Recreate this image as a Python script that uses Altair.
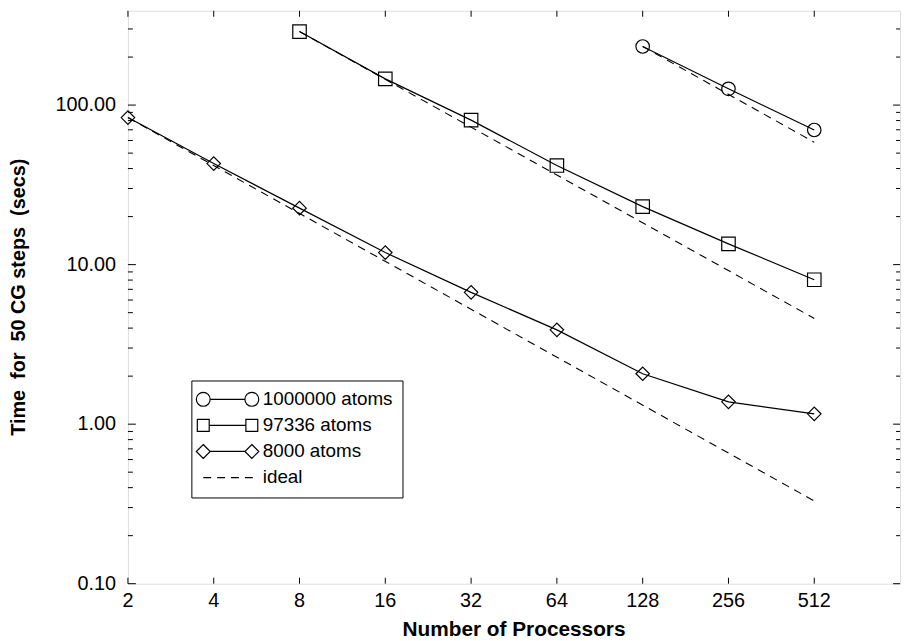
import altair as alt
import pandas as pd

# ---------------- data ----------------
series_names = ["1000000 atoms", "97336 atoms", "8000 atoms"]

procs_1m = [128, 256, 512]
time_1m = [233.0, 126.5, 69.8]

procs_97k = [8, 16, 32, 64, 128, 256, 512]
time_97k = [289.0, 146.0, 80.5, 41.8, 23.1, 13.5, 8.04]

procs_8k = [2, 4, 8, 16, 32, 64, 128, 256, 512]
time_8k = [83.5, 43.0, 22.6, 11.9, 6.7, 3.9, 2.07, 1.38, 1.16]

ideal_start_procs = [128, 8, 2]
ideal_start_time = [233.0, 289.0, 83.5]
ideal_end_procs = [512, 512, 512]
ideal_end_time = [58.5, 4.6, 0.33]

x_ticks = [2, 4, 8, 16, 32, 64, 128, 256, 512]
y_ticks = [0.1, 1, 10, 100]
y_minor_ticks = [0.2, 0.3, 0.4, 0.5, 0.6, 0.7, 0.8, 0.9,
                 2, 3, 4, 5, 6, 7, 8, 9,
                 20, 30, 40, 50, 60, 70, 80, 90,
                 200, 300]
legend_labels = series_names + ["ideal"]

x_domain = [2, 1024]
y_domain = [0.1, 390]

NB = "\u00a0"
x_title = "Number of Processors"
y_title = f"Time {NB}for {NB}50 CG steps {NB}(secs)"

# ---------------- tables ----------------
rows = []
for name, ps, ts in zip(series_names, [procs_1m, procs_97k, procs_8k],
                        [time_1m, time_97k, time_8k]):
    for p, t in zip(ps, ts):
        rows.append({"series": name, "procs": p, "time": t})
df = pd.DataFrame(rows)

irows = []
for name, p0, t0, p1, t1 in zip(series_names, ideal_start_procs, ideal_start_time,
                                ideal_end_procs, ideal_end_time):
    irows.append({"series": name, "procs": p0, "time": t0})
    irows.append({"series": name, "procs": p1, "time": t1})
df_ideal = pd.DataFrame(irows)

df_xt = pd.DataFrame({"v": x_ticks})
df_yt = pd.DataFrame({"v": y_ticks})
df_ym = pd.DataFrame({"v": y_minor_ticks})
df_xtitle = pd.DataFrame({"t": [x_title]})
df_ytitle = pd.DataFrame({"t": [y_title]})

# ---------------- styling helpers ----------------
FONT = "Liberation Sans"
x_scale = alt.Scale(type="log", base=2, domain=x_domain, nice=False)
y_scale = alt.Scale(type="log", domain=y_domain, nice=False)
x_mid = (x_domain[0] * x_domain[1]) ** 0.5   # geometric centre of the log axis
y_mid = (y_domain[0] * y_domain[1]) ** 0.5

# legend symbols: unit = 8 px (symbolSize 256)
U = 8.0


def f(v):
    return f"{v / U:.3f}"


def circle_path(cx, r):
    k = 0.5523 * r
    return (f"M{f(cx + r)},0 C{f(cx + r)},{f(k)} {f(cx + k)},{f(r)} {f(cx)},{f(r)} "
            f"C{f(cx - k)},{f(r)} {f(cx - r)},{f(k)} {f(cx - r)},0 "
            f"C{f(cx - r)},{f(-k)} {f(cx - k)},{f(-r)} {f(cx)},{f(-r)} "
            f"C{f(cx + k)},{f(-r)} {f(cx + r)},{f(-k)} {f(cx + r)},0 Z")


def square_path(cx, r):
    return (f"M{f(cx - r)},{f(-r)} L{f(cx + r)},{f(-r)} L{f(cx + r)},{f(r)} "
            f"L{f(cx - r)},{f(r)} Z")


def diamond_path(cx, r):
    return (f"M{f(cx)},{f(-r)} L{f(cx + r)},0 L{f(cx)},{f(r)} L{f(cx - r)},0 Z")


L, R = -7.0, 42.0
p_circle = (circle_path(L, 7) + f" M{f(L + 7)},0 L{f(R - 7)},0 " + circle_path(R, 7))
p_square = (square_path(L, 6) + f" M{f(L + 6)},0 L{f(R - 6)},0 " + square_path(R, 6))
p_diamond = (diamond_path(L, 7) + f" M{f(L + 7)},0 L{f(R - 7)},0 " + diamond_path(R, 7))
p_dash = " ".join(f"M{f(a)},0 L{f(a + 8)},0" for a in [L, L + 14, L + 28, L + 42])
legend_paths = [p_circle, p_square, p_diamond, p_dash]

# ---------------- data layers ----------------
lines = alt.Chart(df).mark_line(color="black", strokeWidth=1.2).encode(
    x=alt.X("procs:Q", scale=x_scale, axis=None),
    y=alt.Y("time:Q", scale=y_scale, axis=None),
    detail="series:N",
    order="procs:Q",
)

ideal = alt.Chart(df_ideal).mark_line(color="black", strokeWidth=1.1,
                                      strokeDash=[8, 6]).encode(
    x=alt.X("procs:Q", scale=x_scale, axis=None),
    y=alt.Y("time:Q", scale=y_scale, axis=None),
    detail="series:N",
)

points = alt.Chart(df).mark_point(color="black", filled=False, size=185,
                                  strokeWidth=1.2, opacity=1).encode(
    x=alt.X("procs:Q", scale=x_scale, axis=None),
    y=alt.Y("time:Q", scale=y_scale, axis=None),
    shape=alt.Shape("series:N",
                    scale=alt.Scale(domain=series_names,
                                    range=["circle", "square", "diamond"]),
                    legend=None),
)

legend_layer = alt.Chart(df).transform_filter("false").mark_point(
    color="black", filled=False, strokeWidth=1.2, opacity=1).encode(
    shape=alt.Shape("series:N",
                    scale=alt.Scale(domain=legend_labels, range=legend_paths),
                    legend=alt.Legend(orient="none", legendX=64, legendY=373,
                                      direction="vertical", title=None,
                                      padding=9.5, rowPadding=6.3,
                                      symbolSize=256, symbolStrokeWidth=1.2,
                                      symbolStrokeColor="black",
                                      symbolFillColor="transparent",
                                      symbolOpacity=1,
                                      labelOffset=43.5, labelFont=FONT,
                                      labelFontSize=19, labelColor="black",
                                      labelLimit=400,
                                      strokeColor="black", fillColor="white")),
)


# ---------------- frame ticks (inward, all four sides) ----------------
# short line-shaped point symbols; path length (2 units) = sqrt(size) px
def xticks(y_edge, length, path):
    return alt.Chart(df_xt).mark_point(shape=path, size=length * length,
                                       filled=False, color="black",
                                       strokeWidth=1, opacity=1).encode(
        x=alt.X("v:Q", scale=x_scale, axis=None),
        y=alt.Y(datum=y_edge, scale=y_scale, axis=None),
    )


def yticks(data, x_edge, length, path):
    return alt.Chart(data).mark_point(shape=path, size=length * length,
                                      filled=False, color="black",
                                      strokeWidth=1, opacity=1).encode(
        y=alt.Y("v:Q", scale=y_scale, axis=None),
        x=alt.X(datum=x_edge, scale=x_scale, axis=None),
    )


UP, DOWN, RIGHT, LEFT = "M0,0L0,-2", "M0,0L0,2", "M0,0L2,0", "M0,0L-2,0"
tick_layers = [
    xticks(y_domain[0], 6, UP),
    xticks(y_domain[1], 6, DOWN),
    yticks(df_yt, x_domain[0], 8, RIGHT),
    yticks(df_ym, x_domain[0], 5, RIGHT),
    yticks(df_yt, x_domain[1], 7, LEFT),
    yticks(df_ym, x_domain[1], 4, LEFT),
]

# ---------------- tick labels and axis titles ----------------
x_labels = alt.Chart(df_xt).mark_text(font=FONT, fontSize=20, color="black",
                                      baseline="top", align="center", dy=8).encode(
    x=alt.X("v:Q", scale=x_scale, axis=None),
    y=alt.Y(datum=y_domain[0], scale=y_scale, axis=None),
    text=alt.Text("v:Q", format="d"),
)

y_labels = alt.Chart(df_yt).mark_text(font=FONT, fontSize=20, color="black",
                                      baseline="middle", align="right", dx=-12).encode(
    y=alt.Y("v:Q", scale=y_scale, axis=None),
    x=alt.X(datum=x_domain[0], scale=x_scale, axis=None),
    text=alt.Text("v:Q", format=".2f"),
)

x_title_layer = alt.Chart(df_xtitle).mark_text(
    font=FONT, fontSize=21, fontWeight="bold", color="black",
    baseline="alphabetic", align="center", dy=53).encode(
    x=alt.X(datum=x_mid, scale=x_scale, axis=None),
    y=alt.Y(datum=y_domain[0], scale=y_scale, axis=None),
    text="t:N",
)

y_title_layer = alt.Chart(df_ytitle).mark_text(
    font=FONT, fontSize=20, fontWeight="bold", color="black", angle=270,
    baseline="alphabetic", align="center", dy=-104).encode(
    x=alt.X(datum=x_domain[0], scale=x_scale, axis=None),
    y=alt.Y(datum=y_mid, scale=y_scale, axis=None),
    text="t:N",
)

chart = alt.layer(lines, ideal, points, legend_layer, *tick_layers,
                  x_labels, y_labels, x_title_layer, y_title_layer).resolve_scale(
    shape="independent"
).properties(
    width=779, height=578,
    padding={"left": 121, "top": 0, "right": 6, "bottom": 55},
    autosize=alt.AutoSizeParams(type="none"),
).configure_view(
    stroke="#222222", strokeWidth=1.6
).configure(
    background="white"
)

chart.save("out.html", embed_options={"renderer": "svg", "actions": False})
